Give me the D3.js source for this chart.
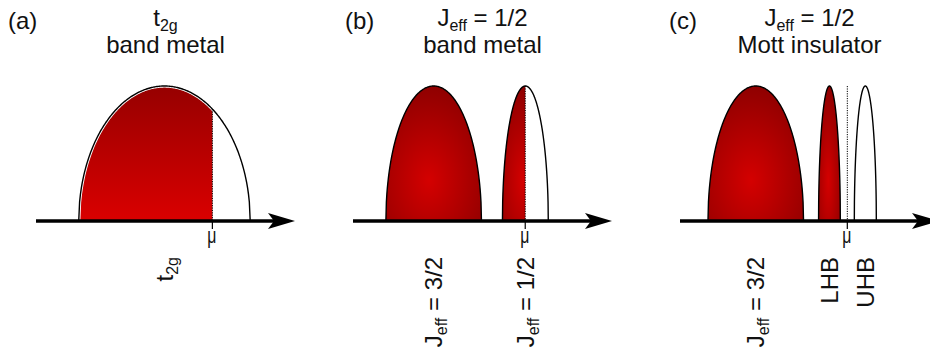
<!DOCTYPE html>
<html><head><meta charset="utf-8">
<script src="https://cdn.jsdelivr.net/npm/d3@7"></script>
<style>html,body{margin:0;padding:0;background:#fff;}svg{display:block;font-family:"Liberation Sans",Arial,sans-serif;}</style>
</head><body>
<script>
// ---- data (energies in arbitrary units along each panel's axis, 0..10 = arrow tip) ----
const panels = ["a", "b", "c"];
const panelLetters = ["(a)", "(b)", "(c)"];
const panelLetterE = [-1.08, -0.31, -0.42];
const titleLine1 = [["t", "2g"], ["J", "eff", " = 1/2"], ["J", "eff", " = 1/2"]];
const titleLine2 = ["band metal", "band metal", "Mott insulator"];
const muE = [6.81, 6.65, 6.46];
const muLineTop = [null, null, 1];
// bands: panel index, lower edge, upper edge, peak DOS, filling
const bandPanel = [0, 1, 1, 2, 2, 2];
const bandLo    = [1.65, 1.27, 5.77, 1.08, 5.35, 6.73];
const bandHi    = [8.27, 4.96, 7.54, 4.77, 6.19, 7.58];
const bandPeak  = [1, 1, 1, 1, 1, 1];
const bandFill  = ["toMu", "full", "toMu", "full", "full", "none"];
const bandLabel = [["t", "2g", ""], ["J", "eff", " = 3/2"], ["J", "eff", " = 1/2"], ["J", "eff", " = 3/2"], ["LHB", "", ""], ["UHB", "", ""]];

const W = 930, H = 354;
const panelLeft = [36, 353, 680];
const axisLen = 259;
const axisY = 221, topY = 86;
const fs = 24;

const svg = d3.select("body").append("svg").attr("width", W).attr("height", H);
const defs = svg.append("defs");

const lin = defs.append("linearGradient").attr("id", "gradLin").attr("x1", 0).attr("y1", 0).attr("x2", 0).attr("y2", 1);
lin.append("stop").attr("offset", 0).attr("stop-color", "#960000");
lin.append("stop").attr("offset", 1).attr("stop-color", "#da0000");
const rad = defs.append("radialGradient").attr("id", "gradRad").attr("cx", 0.45).attr("cy", 0.7).attr("r", 0.75);
rad.append("stop").attr("offset", 0).attr("stop-color", "#d40000");
rad.append("stop").attr("offset", 1).attr("stop-color", "#8a0000");

const y = d3.scaleLinear().domain([0, 1]).range([axisY, topY]);
const xs = panels.map((p, i) => d3.scaleLinear().domain([0, 10]).range([panelLeft[i], panelLeft[i] + axisLen]));

function bandPoints(i) {
  const x = xs[bandPanel[i]];
  const c = (bandLo[i] + bandHi[i]) / 2, h = (bandHi[i] - bandLo[i]) / 2;
  return d3.range(0, 201).map(k => {
    const t = -1 + k / 100;
    return [x(c + h * t), y(bandPeak[i] * Math.sqrt(Math.max(0, 1 - t * t)))];
  });
}
const line = d3.line();

function richText(g, parts, subSize) {
  g.append("tspan").text(parts[0]);
  if (parts[1]) g.append("tspan").attr("font-size", subSize).attr("dy", 5).text(parts[1]);
  if (parts[2]) g.append("tspan").attr("dy", parts[1] ? -5 : 0).text(parts[2]);
}

panels.forEach((p, pi) => {
  const x = xs[pi];
  const g = svg.append("g");
  // titles
  g.append("text").attr("x", x(panelLetterE[pi])).attr("y", 29).attr("font-size", fs).attr("fill", "#111").text(panelLetters[pi]);
  const t1 = g.append("text").attr("x", x(5)).attr("y", 26).attr("font-size", fs).attr("text-anchor", "middle").attr("fill", "#111");
  richText(t1, titleLine1[pi], 16);
  g.append("text").attr("x", x(5)).attr("y", 53).attr("font-size", fs).attr("text-anchor", "middle").attr("fill", "#111").text(titleLine2[pi]);

  // bands
  bandPanel.forEach((bp, bi) => {
    if (bp !== pi) return;
    const pts = bandPoints(bi);
    const d = line(pts) + "Z";
    const grad = pi === 0 ? "url(#gradLin)" : "url(#gradRad)";
    if (bandFill[bi] !== "none") {
      let path = g.append("path").attr("d", d).attr("fill", grad);
      if (bandFill[bi] === "toMu") {
        const cid = "clip" + bi;
        defs.append("clipPath").attr("id", cid).append("rect")
          .attr("x", x(bandLo[bi]) - 2).attr("y", 0)
          .attr("width", x(muE[pi]) - x(bandLo[bi]) + 2).attr("height", H);
        path.attr("clip-path", `url(#${cid})`);
      }
    } else {
      g.append("path").attr("d", d).attr("fill", "#fff");
    }
    if (pi === 0) g.append("path").attr("d", line(pts)).attr("fill", "none").attr("stroke", "#fff").attr("stroke-width", 3.2);
    g.append("path").attr("d", line(pts)).attr("fill", "none").attr("stroke", "#000").attr("stroke-width", 1.4);

    // band label (rotated)
    const c = (bandLo[bi] + bandHi[bi]) / 2;
    const lt = g.append("text").attr("transform", `translate(${x(c)},257) rotate(-90)`)
      .attr("text-anchor", "end").attr("dy", "0.36em").attr("font-size", fs).attr("fill", "#111");
    richText(lt, bandLabel[bi], 16);
  });

  // mu dotted line
  let topVal = muLineTop[pi];
  if (topVal === null) {
    const bi = bandPanel.findIndex((bp, k) => bp === pi && bandLo[k] < muE[pi] && bandHi[k] > muE[pi]);
    const c = (bandLo[bi] + bandHi[bi]) / 2, h = (bandHi[bi] - bandLo[bi]) / 2;
    const t = (muE[pi] - c) / h;
    topVal = bandPeak[bi] * Math.sqrt(1 - t * t);
  }
  g.append("line").attr("x1", x(muE[pi])).attr("x2", x(muE[pi])).attr("y1", y(topVal)).attr("y2", axisY)
    .attr("stroke", "#000").attr("stroke-width", 1).attr("stroke-dasharray", "1.2,1.2");

  // axis with arrow
  const tip = x(10);
  g.append("line").attr("x1", x(0)).attr("x2", tip - 20).attr("y1", axisY).attr("y2", axisY)
    .attr("stroke", "#000").attr("stroke-width", 3.5);
  g.append("path").attr("d", `M${tip},${axisY} L${tip - 27},${axisY - 8} L${tip - 21},${axisY} L${tip - 27},${axisY + 8} Z`).attr("fill", "#000");
  // mu tick
  g.append("line").attr("x1", x(muE[pi])).attr("x2", x(muE[pi])).attr("y1", axisY).attr("y2", 229)
    .attr("stroke", "#000").attr("stroke-width", 1.2);
  g.append("text").attr("transform", `translate(${x(muE[pi]) - 0.5},243) scale(0.72,1)`)
    .attr("text-anchor", "middle").attr("font-size", 22).attr("fill", "#111").text("μ");
});
</script>
</body></html>
